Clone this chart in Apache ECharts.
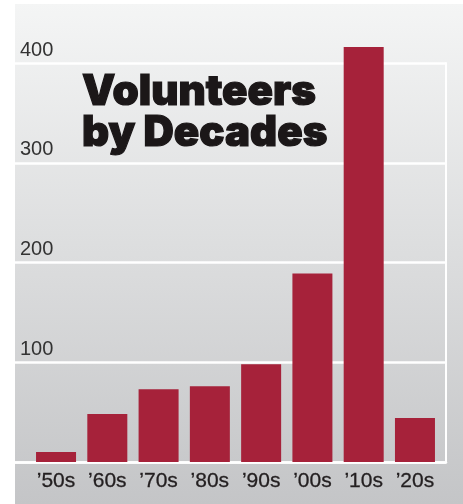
<!DOCTYPE html>
<html>
<head>
<meta charset="utf-8">
<script src="https://cdn.jsdelivr.net/npm/echarts@6/dist/echarts.min.js"></script>
<style>
html,body{margin:0;padding:0;background:#fff;}
#main{width:463px;height:504px;}
</style>
</head>
<body>
<div id="main"></div>
<script>
const categories = ["\u201950s", "\u201960s", "\u201970s", "\u201980s", "\u201990s", "\u201900s", "\u201910s", "\u201920s"];
const volunteers = [10, 48, 73, 76, 98, 189, 416, 44];
const yTicks = { min: 0, max: 400, interval: 100 };
const titleText = "Volunteers\nby Decades";

const chart = echarts.init(document.getElementById('main'), null, { renderer: 'canvas' });
const option = {
  animation: false,
  backgroundColor: '#ffffff',
  graphic: [{
    type: 'rect', z: -10, silent: true,
    shape: { x: 15, y: 4, width: 448, height: 500 },
    style: {
      fill: new echarts.graphic.LinearGradient(0, 0, 0, 1, [
        { offset: 0, color: '#f4f5f5' },
        { offset: 1, color: '#c4c5c7' }
      ])
    }
  }],
  title: {
    text: titleText,
    left: 77, top: 67,
    textStyle: {
      fontFamily: 'Inter', fontWeight: 900, fontSize: 42, lineHeight: 41, color: '#1b1718',
      textBorderColor: '#1b1718', textBorderWidth: 1.2
    }
  },
  grid: [
    { left: 15, right: 17, top: 63, bottom: 42 },
    { left: 30.4, right: 22.4, top: 63, bottom: 42 }
  ],
  xAxis: [
    { type: 'value', gridIndex: 0, min: 0, max: 1,
      axisLine: { show: true, lineStyle: { color: '#ffffff', width: 2.5 } },
      axisTick: { show: false }, axisLabel: { show: false }, splitLine: { show: false } },
    { type: 'category', gridIndex: 1, data: categories,
      axisLine: { show: false }, axisTick: { show: false },
      axisLabel: { interval: 0, margin: 9, fontFamily: 'Liberation Sans', fontSize: 21, color: '#231f20',
        textBorderColor: '#231f20', textBorderWidth: 0.3 } }
  ],
  yAxis: [
    { type: 'value', gridIndex: 0, min: yTicks.min, max: yTicks.max, interval: yTicks.interval,
      axisLine: { show: false }, axisTick: { show: false },
      splitLine: { show: true, lineStyle: { color: '#ffffff', width: 2.5 } },
      axisLabel: { inside: true, margin: 5, showMinLabel: false, verticalAlign: 'bottom', padding: [0, 0, 3, 0],
        fontFamily: 'Liberation Sans', fontSize: 20, color: '#333333' } },
    { type: 'value', gridIndex: 0, position: 'right', min: yTicks.min, max: yTicks.max, interval: yTicks.interval,
      axisLine: { show: true, lineStyle: { color: '#ffffff', width: 2 } },
      axisTick: { show: false }, axisLabel: { show: false }, splitLine: { show: false } },
    { type: 'value', gridIndex: 1, min: yTicks.min, max: yTicks.max, interval: yTicks.interval, show: false,
      splitLine: { show: false } }
  ],
  series: [{
    type: 'bar', xAxisIndex: 1, yAxisIndex: 2, data: volunteers,
    barWidth: 40, clip: false,
    itemStyle: { color: '#a6223a' }
  }]
};
chart.setOption(option);
</script>
</body>
</html>
